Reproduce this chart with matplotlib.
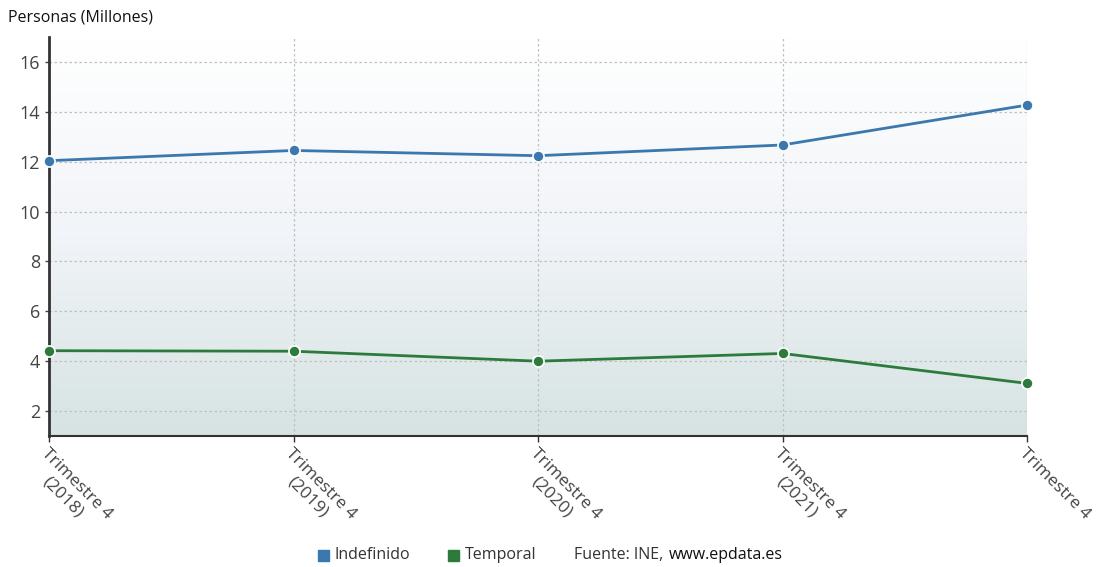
import matplotlib
matplotlib.use("Agg")
import matplotlib.pyplot as plt
import numpy as np
from matplotlib.patches import Rectangle
from matplotlib.colors import LinearSegmentedColormap

plt.rcParams['font.family'] = ['Open Sans', 'DejaVu Sans']

categories = ["Trimestre 4\n(2018)", "Trimestre 4\n(2019)", "Trimestre 4\n(2020)", "Trimestre 4\n(2021)", "Trimestre 4"]
indefinido = [12.04, 12.45, 12.24, 12.67, 14.27]
temporal = [4.42, 4.40, 4.00, 4.31, 3.11]
yticks = [2, 4, 6, 8, 10, 12, 14, 16]

blue = "#3a78ad"
green = "#2d7a3d"

fig = plt.figure(figsize=(10.96, 5.67), dpi=100)
W, H = 1096, 567
ax = fig.add_axes([49 / W, 1 - 436 / H, (1027 - 49) / W, (436 - 37) / H])

x = np.arange(len(categories))
ax.set_xlim(0, len(categories) - 1)
ax.set_ylim(1, 17)

# gradient background: white at top to pale teal-grey at bottom
grad = np.linspace(1, 0, 256).reshape(-1, 1)
cmap = LinearSegmentedColormap.from_list("bg", ["#ffffff", "#f1f4f8", "#d6e3e2"])
ax.imshow(grad, aspect='auto', cmap=cmap, extent=[0, len(categories) - 1, 17, 1],
          origin='upper', zorder=0, vmin=0, vmax=1)

ax.grid(True, color="#c0c0c0", linestyle=(0, (2, 2)), linewidth=0.9, zorder=1)
ax.set_yticks(yticks)
ax.set_xticks(x)
ax.set_xticklabels(categories, rotation=-45, ha='left', va='top',
                   rotation_mode='anchor', fontsize=12.5, color="#444444",
                   linespacing=1.25, multialignment='center')
ax.tick_params(axis='y', labelsize=13, colors="#444444", length=3, width=1)
ax.tick_params(axis='x', length=4, width=1, color="#333333", pad=3)

ax.plot(x, indefinido, color=blue, lw=2, marker='o', ms=8, mfc=blue,
        mec='white', mew=1.2, zorder=3, clip_on=False)
ax.plot(x, temporal, color=green, lw=2, marker='o', ms=8, mfc=green,
        mec='white', mew=1.2, zorder=3, clip_on=False)

for s in ['top', 'right']:
    ax.spines[s].set_visible(False)
ax.spines['left'].set_color("#333333")
ax.spines['left'].set_linewidth(2)
ax.spines['bottom'].set_color("#333333")
ax.spines['bottom'].set_linewidth(1.5)

fig.text(8 / W, 1 - 17 / H, "Personas (Millones)", fontsize=11.5, color="#111111",
         ha='left', va='center', fontweight='medium')

# legend
ly = 1 - 555 / H
fig.patches.append(Rectangle((318 / W, ly - 6 / H), 11 / W, 11 / H,
                             transform=fig.transFigure, color=blue))
fig.text(335 / W, ly, "Indefinido", fontsize=11.5, color="#333333", va='center')
fig.patches.append(Rectangle((448 / W, ly - 6 / H), 11 / W, 11 / H,
                             transform=fig.transFigure, color=green))
fig.text(465 / W, ly, "Temporal", fontsize=11.5, color="#333333", va='center')
fig.text(574 / W, ly, "Fuente: INE, ", fontsize=11.5, color="#333333", va='center')
fig.text(669 / W, ly, "www.epdata.es", fontsize=11.5, color="#111111",
         va='center', fontweight='medium')

fig.savefig("out.png", dpi=100)
